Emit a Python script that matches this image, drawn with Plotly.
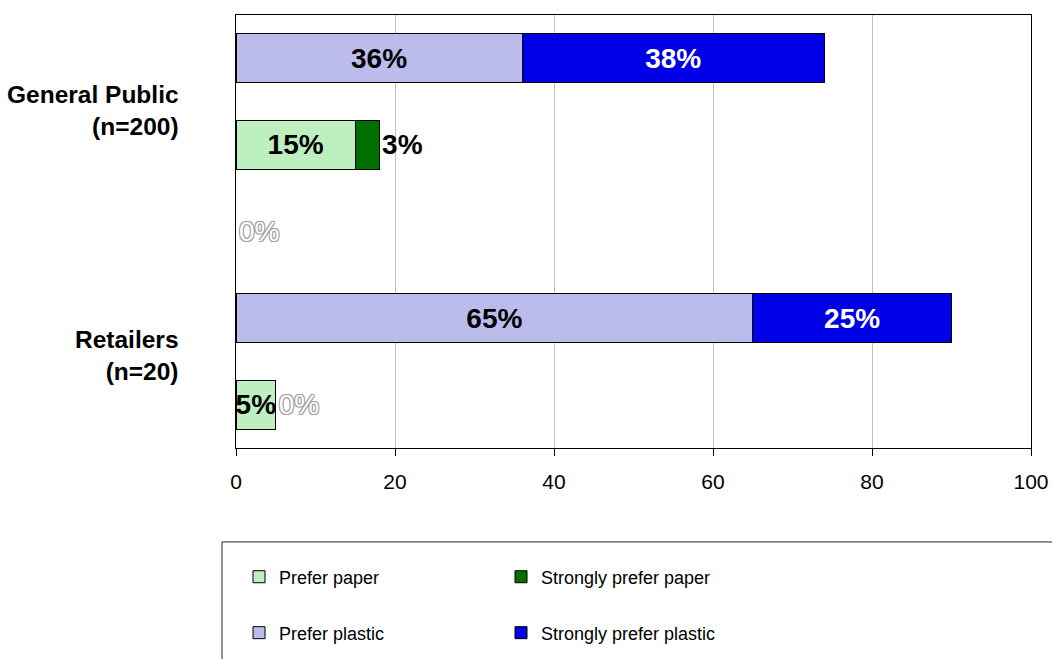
import plotly.graph_objects as go

# ---- data ----
rows = ["General Public - plastic", "General Public - paper", "", "Retailers - plastic", "Retailers - paper"]
group_labels = ["General Public<br>(n=200)", "Retailers<br>(n=20)"]
prefer_paper = [None, 15, None, None, 5]
strongly_paper = [None, 3, 0, None, 0]
prefer_plastic = [36, None, None, 65, None]
strongly_plastic = [38, None, None, 25, None]
x_ticks = [0, 20, 40, 60, 80, 100]

ypos = list(range(len(rows)))
FONT = "Liberation Sans, Arial, sans-serif"
OUTLINE = "-1px -1px 0 #a0a0a0, 1px -1px 0 #a0a0a0, -1px 1px 0 #a0a0a0, 1px 1px 0 #a0a0a0"


def labels(vals):
    return ["" if v is None else f"{v}%" for v in vals]


def line_widths(vals):
    return [0 if v == 0 else 1 for v in vals]


fig = go.Figure()

fig.add_trace(go.Bar(
    name="Prefer paper", y=ypos, x=prefer_paper, orientation="h",
    marker=dict(color="#BEEFBE", line=dict(color="#000000", width=line_widths(prefer_paper))),
    text=labels(prefer_paper), textposition="inside", textangle=0,
    constraintext="none", insidetextanchor="middle",
    textfont=dict(family=FONT, size=28, color="#000000", weight="bold"),
    legend="legend", hoverinfo="skip",
))
fig.add_trace(go.Bar(
    name="Strongly prefer paper", y=ypos, x=strongly_paper, orientation="h",
    marker=dict(color="#006F00", line=dict(color="#000000", width=line_widths(strongly_paper))),
    text=labels(strongly_paper), textposition="outside", textangle=0,
    constraintext="none", cliponaxis=False,
    textfont=dict(
        family=FONT, size=28,
        weight=["bold" if (v or 0) > 0 else "normal" for v in strongly_paper],
        color=["#000000" if (v or 0) > 0 else "#ffffff" for v in strongly_paper],
        shadow=["none" if (v or 0) > 0 else OUTLINE for v in strongly_paper],
    ),
    legend="legend", hoverinfo="skip",
))
fig.add_trace(go.Bar(
    name="Prefer plastic", y=ypos, x=prefer_plastic, orientation="h",
    marker=dict(color="#BCBCEC", line=dict(color="#000000", width=line_widths(prefer_plastic))),
    text=labels(prefer_plastic), textposition="inside", textangle=0,
    constraintext="none", insidetextanchor="middle",
    textfont=dict(family=FONT, size=28, color="#000000", weight="bold"),
    legend="legend2", hoverinfo="skip",
))
fig.add_trace(go.Bar(
    name="Strongly prefer plastic", y=ypos, x=strongly_plastic, orientation="h",
    marker=dict(color="#0000E6", line=dict(color="#000000", width=line_widths(strongly_plastic))),
    text=labels(strongly_plastic), textposition="inside", textangle=0,
    constraintext="none", insidetextanchor="middle",
    textfont=dict(family=FONT, size=28, color="#ffffff", weight="bold"),
    legend="legend2", hoverinfo="skip",
))

# group labels on the left
for lab, yv in zip(group_labels, [0.6, 3.43]):
    fig.add_annotation(
        text=lab, xref="paper", yref="y", x=-0.069, y=yv,
        xanchor="right", yanchor="middle", align="right", showarrow=False,
        font=dict(family=FONT, size=24.5, color="#000000", weight="bold"),
    )

# legend frame
fig.add_shape(
    type="rect", xref="paper", yref="paper",
    x0=-0.0176, x1=1.2, y0=-0.217, y1=-0.7,
    line=dict(color="#222222", width=1), fillcolor="rgba(0,0,0,0)", layer="below",
)

legend_common = dict(
    orientation="h", xref="container", yref="container", x=0.2272, xanchor="left",
    yanchor="middle", entrywidth=217, entrywidthmode="pixels",
    font=dict(family=FONT, size=18, color="#000000"),
    bgcolor="rgba(0,0,0,0)", borderwidth=0, traceorder="normal",
)

fig.update_layout(
    width=1052, height=659, autosize=False,
    margin=dict(l=236, r=21, t=15, b=211, pad=0, autoexpand=False),
    paper_bgcolor="#ffffff", plot_bgcolor="#ffffff",
    barmode="stack", bargap=0.434,
    showlegend=True,
    legend=dict(legend_common, y=0.1244),
    legend2=dict(legend_common, y=0.0395),
    font=dict(family=FONT, color="#000000"),
    xaxis=dict(
        range=[0, 100], tickvals=x_ticks, ticktext=[str(t) for t in x_ticks],
        showgrid=True, gridcolor="#C0C0C0", gridwidth=1,
        ticks="outside", ticklen=7, tickcolor="#000000", tickwidth=1,
        showline=True, linecolor="#000000", linewidth=1, mirror=True,
        zeroline=False, tickfont=dict(family=FONT, size=21, color="#000000"),
        ticklabelstandoff=8, fixedrange=True, automargin=False,
    ),
    yaxis=dict(
        range=[4.5, -0.5], tickvals=ypos, showticklabels=False, ticks="",
        showgrid=False, showline=True, linecolor="#000000", linewidth=1,
        mirror=True, zeroline=False, fixedrange=True, automargin=False,
    ),
)

fig.write_html(
    "out.html",
    config={"displayModeBar": False},
    post_script="document.body.style.margin='0';document.body.style.overflow='hidden';",
)
